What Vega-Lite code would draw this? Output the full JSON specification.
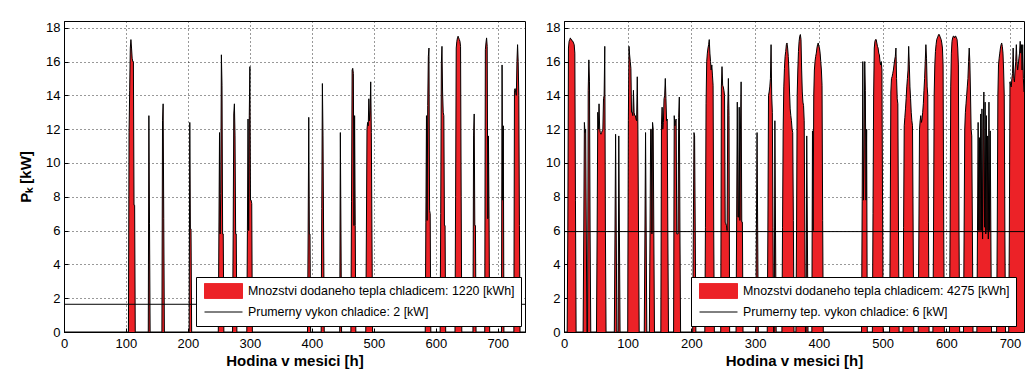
{
  "$schema": "https://vega.github.io/schema/vega-lite/v6.json",
  "background": "white",
  "padding": {"left": 18, "top": 20, "right": 3, "bottom": 0},
  "spacing": 39,
  "bounds": "flush",
  "config": {
    "view": {"stroke": "#000", "strokeWidth": 1},
    "font": "Liberation Sans",
    "axis": {
      "labelFont": "Liberation Sans",
      "labelFontSize": 13,
      "labelColor": "#000",
      "labelOverlap": false,
      "tickColor": "#000",
      "domainColor": "#000",
      "gridColor": "#000",
      "gridDash": [1, 3],
      "gridOpacity": 0.8,
      "tickSize": -4,
      "tickCount": 20,
      "titleFont": "Liberation Sans",
      "titleFontWeight": "bold",
      "titleFontSize": 15,
      "titleColor": "#000",
      "labelFlush": false
    }
  },
  "resolve": {"scale": {"color": "independent"}, "legend": {"color": "independent"}},
  "datasets": {
    "left": [
      {"h":0,"v":0},
      {"h":104,"v":0},{"h":105,"v":11.8},{"h":106,"v":14.3},{"h":107,"v":16.8},{"h":108,"v":17.3},{"h":109,"v":16.8},{"h":110,"v":16.2},{"h":111,"v":16},{"h":112,"v":16},{"h":113,"v":7.5},{"h":114,"v":7.5},{"h":115,"v":0},
      {"h":136,"v":0},{"h":137,"v":12.8},{"h":138,"v":6.4},{"h":139,"v":0},
      {"h":158,"v":0},{"h":159,"v":12.5},{"h":160,"v":13.5},{"h":161,"v":6.7},{"h":162,"v":0},
      {"h":202,"v":0},{"h":203,"v":12.4},{"h":204,"v":6.1},{"h":205,"v":6.1},{"h":206,"v":0},
      {"h":249,"v":0},{"h":250,"v":5.8},{"h":251,"v":11.8},{"h":252,"v":5.8},{"h":253,"v":8.2},{"h":254,"v":16.4},{"h":255,"v":14.6},{"h":256,"v":5.8},{"h":257,"v":5.8},{"h":258,"v":0},
      {"h":272,"v":0},{"h":273,"v":5.8},{"h":274,"v":12.9},{"h":275,"v":13.5},{"h":276,"v":11.6},{"h":277,"v":5.8},{"h":278,"v":5.8},{"h":279,"v":0},
      {"h":295,"v":0},{"h":296,"v":6},{"h":297,"v":12.6},{"h":298,"v":6},{"h":299,"v":12.8},{"h":300,"v":15.7},{"h":301,"v":7.8},{"h":302,"v":7.8},{"h":303,"v":7.6},{"h":304,"v":0},
      {"h":393,"v":0},{"h":394,"v":5.8},{"h":395,"v":12.7},{"h":396,"v":5.8},{"h":397,"v":5.8},{"h":398,"v":0},
      {"h":415,"v":0},{"h":416,"v":7.3},{"h":417,"v":14.7},{"h":418,"v":11.6},{"h":419,"v":5.8},{"h":420,"v":0},
      {"h":445,"v":0},{"h":446,"v":11.8},{"h":447,"v":5.8},{"h":448,"v":0},
      {"h":463,"v":0},{"h":464,"v":7.7},{"h":465,"v":15.5},{"h":466,"v":15.6},{"h":467,"v":15.3},{"h":468,"v":6.3},{"h":469,"v":12.8},{"h":470,"v":6.3},{"h":471,"v":0},
      {"h":487,"v":0},{"h":488,"v":5.8},{"h":489,"v":12},{"h":490,"v":12.4},{"h":491,"v":12.2},{"h":492,"v":13.8},{"h":493,"v":12.5},{"h":494,"v":13.1},{"h":495,"v":14.8},{"h":496,"v":11.8},{"h":497,"v":5.8},{"h":498,"v":0},
      {"h":583,"v":0},{"h":584,"v":6.5},{"h":585,"v":12.8},{"h":586,"v":6.6},{"h":587,"v":13.4},{"h":588,"v":16.3},{"h":589,"v":16.8},{"h":590,"v":7.2},{"h":591,"v":7},{"h":592,"v":0},
      {"h":607,"v":0},{"h":608,"v":7},{"h":609,"v":15.9},{"h":610,"v":16.9},{"h":611,"v":14.2},{"h":612,"v":13},{"h":613,"v":12.8},{"h":614,"v":6.3},{"h":615,"v":6.3},{"h":616,"v":0},
      {"h":631,"v":0},{"h":632,"v":8},{"h":633,"v":16.8},{"h":634,"v":17.2},{"h":635,"v":17.4},{"h":636,"v":17.5},{"h":637,"v":17.4},{"h":638,"v":17.3},{"h":639,"v":17.2},{"h":640,"v":16.9},{"h":641,"v":8},{"h":642,"v":0},
      {"h":660,"v":0},{"h":661,"v":11.6},{"h":662,"v":12.9},{"h":663,"v":6.3},{"h":664,"v":6.3},{"h":665,"v":0},
      {"h":679,"v":0},{"h":680,"v":16.7},{"h":681,"v":17.1},{"h":682,"v":17.4},{"h":683,"v":16.9},{"h":684,"v":6.7},{"h":685,"v":11.6},{"h":686,"v":6.7},{"h":687,"v":0},
      {"h":706,"v":0},{"h":707,"v":15.8},{"h":708,"v":7.8},{"h":709,"v":12.2},{"h":710,"v":0},
      {"h":726,"v":0},{"h":727,"v":14.3},{"h":728,"v":14.4},{"h":729,"v":14.2},{"h":730,"v":14},{"h":731,"v":16},{"h":732,"v":17},{"h":733,"v":16},{"h":734,"v":14},{"h":735,"v":6.3},{"h":736,"v":0},
      {"h":744,"v":0}
    ],
    "right": [
      {"h":0,"v":0},
      {"h":5,"v":0},{"h":6,"v":6},{"h":7,"v":16.8},{"h":8,"v":17.2},{"h":9,"v":17.3},{"h":10,"v":17.4},{"h":11,"v":17.3},{"h":12,"v":17.3},{"h":13,"v":17.2},{"h":14,"v":17.2},{"h":15,"v":17.1},{"h":16,"v":17},{"h":17,"v":16.5},{"h":18,"v":7.8},{"h":19,"v":0},
      {"h":30,"v":0},{"h":31,"v":5.8},{"h":32,"v":12.4},{"h":33,"v":11.8},{"h":34,"v":12},{"h":35,"v":5.8},{"h":36,"v":0},
      {"h":37,"v":0},{"h":38,"v":14.3},{"h":39,"v":16.1},{"h":40,"v":14.8},{"h":41,"v":5.8},{"h":42,"v":0},
      {"h":51,"v":0},{"h":52,"v":6},{"h":53,"v":13},{"h":54,"v":12},{"h":55,"v":13.5},{"h":56,"v":12},{"h":57,"v":11.8},{"h":58,"v":11.7},{"h":59,"v":11.8},{"h":60,"v":11.9},{"h":61,"v":12},{"h":62,"v":13.8},{"h":63,"v":14},{"h":64,"v":16.9},{"h":65,"v":6},{"h":66,"v":0},
      {"h":79,"v":0},{"h":80,"v":5.8},{"h":81,"v":11.7},{"h":82,"v":5.8},{"h":83,"v":0},
      {"h":85,"v":0},{"h":86,"v":11.6},{"h":87,"v":5.8},{"h":88,"v":0},
      {"h":100,"v":0},{"h":101,"v":12.5},{"h":102,"v":16.9},{"h":103,"v":16.4},{"h":104,"v":16},{"h":105,"v":15.6},{"h":106,"v":13},{"h":107,"v":13},{"h":108,"v":12.8},{"h":109,"v":14.3},{"h":110,"v":13},{"h":111,"v":12.8},{"h":112,"v":12.8},{"h":113,"v":12.6},{"h":114,"v":12.5},{"h":115,"v":15.1},{"h":116,"v":12},{"h":117,"v":5.8},{"h":118,"v":0},
      {"h":126,"v":0},{"h":127,"v":5.8},{"h":128,"v":11.8},{"h":129,"v":5.8},{"h":130,"v":0},
      {"h":134,"v":0},{"h":135,"v":5.8},{"h":136,"v":12},{"h":137,"v":12},{"h":138,"v":5.8},{"h":139,"v":12.4},{"h":140,"v":12},{"h":141,"v":5.8},{"h":142,"v":0},
      {"h":152,"v":0},{"h":153,"v":12.3},{"h":154,"v":13.3},{"h":155,"v":12},{"h":156,"v":12.4},{"h":157,"v":13.8},{"h":158,"v":14},{"h":159,"v":15},{"h":160,"v":13.8},{"h":161,"v":12.5},{"h":162,"v":12.6},{"h":163,"v":5.8},{"h":164,"v":0},
      {"h":172,"v":0},{"h":173,"v":12.8},{"h":174,"v":12.2},{"h":175,"v":12.5},{"h":176,"v":12.6},{"h":177,"v":5.8},{"h":178,"v":5.8},{"h":179,"v":5.8},{"h":180,"v":12.7},{"h":181,"v":13.9},{"h":182,"v":5.8},{"h":183,"v":0},
      {"h":202,"v":0},{"h":203,"v":6},{"h":204,"v":11.8},{"h":205,"v":11.6},{"h":206,"v":6},{"h":207,"v":0},
      {"h":221,"v":0},{"h":222,"v":6.2},{"h":223,"v":13.5},{"h":224,"v":16},{"h":225,"v":16.5},{"h":226,"v":16.8},{"h":227,"v":17},{"h":228,"v":17.3},{"h":229,"v":16.5},{"h":230,"v":16},{"h":231,"v":15.5},{"h":232,"v":15.8},{"h":233,"v":15.2},{"h":234,"v":14.6},{"h":235,"v":6},{"h":236,"v":0},
      {"h":246,"v":0},{"h":247,"v":14.5},{"h":248,"v":15.7},{"h":249,"v":14.6},{"h":250,"v":14.5},{"h":251,"v":14.3},{"h":252,"v":14},{"h":253,"v":6.5},{"h":254,"v":6.4},{"h":255,"v":6.3},{"h":256,"v":6},{"h":257,"v":13.2},{"h":258,"v":15},{"h":259,"v":12.8},{"h":260,"v":0},
      {"h":270,"v":0},{"h":271,"v":6.8},{"h":272,"v":13.6},{"h":273,"v":6.8},{"h":274,"v":6.8},{"h":275,"v":13.3},{"h":276,"v":6.6},{"h":277,"v":12},{"h":278,"v":14.8},{"h":279,"v":6.5},{"h":280,"v":6.5},{"h":281,"v":0},
      {"h":301,"v":0},{"h":302,"v":6},{"h":303,"v":11.8},{"h":304,"v":6},{"h":305,"v":0},
      {"h":319,"v":0},{"h":320,"v":6},{"h":321,"v":14},{"h":322,"v":14.2},{"h":323,"v":14.5},{"h":324,"v":15},{"h":325,"v":17},{"h":326,"v":14},{"h":327,"v":13},{"h":328,"v":6.2},{"h":329,"v":0},{"h":330,"v":0},{"h":331,"v":12.5},{"h":332,"v":6},{"h":333,"v":0},
      {"h":342,"v":0},{"h":343,"v":6.2},{"h":344,"v":12},{"h":345,"v":14.5},{"h":346,"v":15.6},{"h":347,"v":16.3},{"h":348,"v":16.6},{"h":349,"v":17},{"h":350,"v":17.1},{"h":351,"v":16.8},{"h":352,"v":16.3},{"h":353,"v":15.5},{"h":354,"v":14.2},{"h":355,"v":13.2},{"h":356,"v":12.8},{"h":357,"v":12.5},{"h":358,"v":12},{"h":359,"v":11.8},{"h":360,"v":6.6},{"h":361,"v":0},
      {"h":364,"v":0},{"h":365,"v":6},{"h":366,"v":14},{"h":367,"v":15.5},{"h":368,"v":16.6},{"h":369,"v":17.2},{"h":370,"v":17.5},{"h":371,"v":17.6},{"h":372,"v":17.3},{"h":373,"v":15.5},{"h":374,"v":14.2},{"h":375,"v":13.6},{"h":376,"v":13.4},{"h":377,"v":12.5},{"h":378,"v":6},{"h":379,"v":0},
      {"h":380,"v":0},{"h":381,"v":11.6},{"h":382,"v":5.8},{"h":383,"v":0},
      {"h":389,"v":0},{"h":390,"v":11.9},{"h":391,"v":6},{"h":392,"v":14},{"h":393,"v":15.5},{"h":394,"v":16},{"h":395,"v":16.3},{"h":396,"v":16.5},{"h":397,"v":16.8},{"h":398,"v":17},{"h":399,"v":17.1},{"h":400,"v":16.9},{"h":401,"v":16.8},{"h":402,"v":16.5},{"h":403,"v":16},{"h":404,"v":15.5},{"h":405,"v":14.6},{"h":406,"v":6.6},{"h":407,"v":0},
      {"h":467,"v":0},{"h":468,"v":7.7},{"h":469,"v":16},{"h":470,"v":7.8},{"h":471,"v":11},{"h":472,"v":16},{"h":473,"v":14.3},{"h":474,"v":7.8},{"h":475,"v":12},{"h":476,"v":0},
      {"h":484,"v":0},{"h":485,"v":7},{"h":486,"v":14},{"h":487,"v":16.8},{"h":488,"v":17.2},{"h":489,"v":17.3},{"h":490,"v":17.3},{"h":491,"v":17.1},{"h":492,"v":16.9},{"h":493,"v":16.8},{"h":494,"v":16.5},{"h":495,"v":16.4},{"h":496,"v":16},{"h":497,"v":15.8},{"h":498,"v":16},{"h":499,"v":15.5},{"h":500,"v":7.5},{"h":501,"v":0},
      {"h":511,"v":0},{"h":512,"v":6},{"h":513,"v":14.2},{"h":514,"v":15},{"h":515,"v":15.1},{"h":516,"v":15.3},{"h":517,"v":15.5},{"h":518,"v":15.8},{"h":519,"v":16.1},{"h":520,"v":16.3},{"h":521,"v":16.8},{"h":522,"v":15},{"h":523,"v":13.8},{"h":524,"v":13.5},{"h":525,"v":6},{"h":526,"v":0},
      {"h":532,"v":0},{"h":533,"v":6.2},{"h":534,"v":12.2},{"h":535,"v":12.7},{"h":536,"v":13.2},{"h":537,"v":13.8},{"h":538,"v":14.5},{"h":539,"v":15},{"h":540,"v":15.5},{"h":541,"v":16.9},{"h":542,"v":15.8},{"h":543,"v":14.5},{"h":544,"v":13.8},{"h":545,"v":13},{"h":546,"v":12.5},{"h":547,"v":12.2},{"h":548,"v":6},{"h":549,"v":0},
      {"h":556,"v":0},{"h":557,"v":6},{"h":558,"v":12},{"h":559,"v":12.5},{"h":560,"v":12.8},{"h":561,"v":12.4},{"h":562,"v":12.6},{"h":563,"v":13},{"h":564,"v":13.5},{"h":565,"v":14.3},{"h":566,"v":15},{"h":567,"v":16},{"h":568,"v":17},{"h":569,"v":16.2},{"h":570,"v":14.5},{"h":571,"v":14},{"h":572,"v":6.5},{"h":573,"v":0},
      {"h":579,"v":0},{"h":580,"v":6},{"h":581,"v":14},{"h":582,"v":15.8},{"h":583,"v":16.6},{"h":584,"v":17},{"h":585,"v":17.3},{"h":586,"v":17.4},{"h":587,"v":17.5},{"h":588,"v":17.6},{"h":589,"v":17.6},{"h":590,"v":17.5},{"h":591,"v":17.4},{"h":592,"v":17.3},{"h":593,"v":17.1},{"h":594,"v":16.8},{"h":595,"v":15.8},{"h":596,"v":6},{"h":597,"v":0},
      {"h":605,"v":0},{"h":606,"v":6},{"h":607,"v":14.5},{"h":608,"v":16.5},{"h":609,"v":17.2},{"h":610,"v":17.4},{"h":611,"v":17.5},{"h":612,"v":17.5},{"h":613,"v":17.4},{"h":614,"v":17.5},{"h":615,"v":17.5},{"h":616,"v":17.4},{"h":617,"v":17.3},{"h":618,"v":16.8},{"h":619,"v":15.8},{"h":620,"v":6},{"h":621,"v":0},
      {"h":627,"v":0},{"h":628,"v":6},{"h":629,"v":12},{"h":630,"v":13},{"h":631,"v":13.5},{"h":632,"v":14},{"h":633,"v":14.5},{"h":634,"v":15},{"h":635,"v":16},{"h":636,"v":16.8},{"h":637,"v":16},{"h":638,"v":14.2},{"h":639,"v":12},{"h":640,"v":11.6},{"h":641,"v":6},{"h":642,"v":0},
      {"h":648,"v":0},{"h":649,"v":6},{"h":650,"v":12.4},{"h":651,"v":6},{"h":652,"v":11.5},{"h":653,"v":6},{"h":654,"v":12.9},{"h":655,"v":6},{"h":656,"v":13.2},{"h":657,"v":5.5},{"h":658,"v":12},{"h":659,"v":14.2},{"h":660,"v":6.2},{"h":661,"v":13.6},{"h":662,"v":5.8},{"h":663,"v":12.8},{"h":664,"v":6},{"h":665,"v":11.6},{"h":666,"v":5.5},{"h":667,"v":13.6},{"h":668,"v":6},{"h":669,"v":11.9},{"h":670,"v":5.8},{"h":671,"v":0},
      {"h":679,"v":0},{"h":680,"v":6},{"h":681,"v":14},{"h":682,"v":15.8},{"h":683,"v":16.2},{"h":684,"v":16.5},{"h":685,"v":16.8},{"h":686,"v":17},{"h":687,"v":17.1},{"h":688,"v":16.9},{"h":689,"v":16.5},{"h":690,"v":15.5},{"h":691,"v":14},{"h":692,"v":6},{"h":693,"v":0},
      {"h":698,"v":0},{"h":699,"v":6},{"h":700,"v":14.8},{"h":701,"v":14.6},{"h":702,"v":14.5},{"h":703,"v":15},{"h":704,"v":15.3},{"h":705,"v":16.8},{"h":706,"v":15},{"h":707,"v":14.8},{"h":708,"v":15.5},{"h":709,"v":16},{"h":710,"v":17},{"h":711,"v":16},{"h":712,"v":15.5},{"h":713,"v":15.8},{"h":714,"v":16.2},{"h":715,"v":16.5},{"h":716,"v":17.2},{"h":717,"v":16.5},{"h":718,"v":17},{"h":719,"v":15.5},{"h":720,"v":17},{"h":721,"v":15},{"h":722,"v":14.2}
    ],
    "leftAvg": [{"avg": 1.64}],
    "rightAvg": [{"avg": 5.94}]
  },
  "hconcat": [
    {
      "width": 461,
      "height": 311,
      "layer": [
        {
          "data": {"name": "left"},
          "mark": {"type": "area", "interpolate": "linear", "opacity": 1},
          "encoding": {
            "x": {"field": "h", "type": "quantitative", "scale": {"domain": [0, 744], "nice": false, "zero": false},
                  "axis": {"title": "Hodina v mesici [h]", "values": [0,100,200,300,400,500,600,700], "format": "d", "labelPadding": 9, "titlePadding": 3, "grid": true}},
            "y": {"field": "v", "type": "quantitative", "scale": {"domain": [0, 18.4], "nice": false},
                  "axis": {"title": "Pₖ [kW]", "values": [0,2,4,6,8,10,12,14,16,18], "tickCount": 20, "format": "d", "labelPadding": 8, "titlePadding": 12, "grid": true}},
            "color": {
              "datum": "Mnozstvi dodaneho tepla chladicem: 1220 [kWh]",
              "type": "nominal",
              "scale": {"domain": ["Mnozstvi dodaneho tepla chladicem: 1220 [kWh]", "Prumerny vykon chladice: 2 [kW]"], "range": ["#ec2227", "#000000"]},
              "legend": {
                "orient": "none", "legendX": 132, "legendY": 256, "title": null, "direction": "vertical",
                "symbolType": "M-1,-0.4H1V0.4H-1Z", "symbolSize": 1444, "symbolStrokeWidth": 1,
                "clipHeight": 16, "rowPadding": 5, "padding": 6, "symbolOffset": 2, "labelOffset": 5,
                "labelFont": "Liberation Sans",
                "labelFontSize": 12.4, "labelColor": "#000", "labelLimit": 600,
                "fillColor": "#ffffff", "strokeColor": "#000000",
                "encoding": {
                  "symbols": {
                    "shape": {"condition": {"test": "datum.label == 'Prumerny vykon chladice: 2 [kW]'", "value": "M-1,0H1"}, "value": "M-1,-0.4H1V0.4H-1Z"},
                    "fill": {"condition": {"test": "datum.label == 'Prumerny vykon chladice: 2 [kW]'", "value": "transparent"}, "value": "#ec2227"},
                    "stroke": {"value": "#000000"},
                    "strokeWidth": {"value": 1},
                    "opacity": {"value": 1}
                  }
                }
              }
            }
          }
        },
        {
          "data": {"name": "left"},
          "mark": {"type": "line", "color": "#000", "strokeWidth": 1, "interpolate": "linear"},
          "encoding": {
            "x": {"field": "h", "type": "quantitative"},
            "y": {"field": "v", "type": "quantitative"}
          }
        },
        {
          "data": {"name": "leftAvg"},
          "mark": {"type": "rule", "strokeWidth": 1},
          "encoding": {
            "y": {"field": "avg", "type": "quantitative"},
            "color": {"datum": "Prumerny vykon chladice: 2 [kW]", "type": "nominal"}
          }
        }
      ]
    },
    {
      "width": 460,
      "height": 311,
      "layer": [
        {
          "data": {"name": "right"},
          "mark": {"type": "area", "interpolate": "linear", "opacity": 1},
          "encoding": {
            "x": {"field": "h", "type": "quantitative", "scale": {"domain": [0, 722], "nice": false, "zero": false},
                  "axis": {"title": "Hodina v mesici [h]", "values": [0,100,200,300,400,500,600,700], "format": "d", "labelPadding": 9, "titlePadding": 3, "grid": true}},
            "y": {"field": "v", "type": "quantitative", "scale": {"domain": [0, 18.4], "nice": false},
                  "axis": {"title": null, "values": [0,2,4,6,8,10,12,14,16,18], "tickCount": 20, "format": "d", "labelPadding": 8, "grid": true}},
            "color": {
              "datum": "Mnozstvi dodaneho tepla chladicem: 4275 [kWh]",
              "type": "nominal",
              "scale": {"domain": ["Mnozstvi dodaneho tepla chladicem: 4275 [kWh]", "Prumerny tep. vykon chladice: 6 [kW]"], "range": ["#ec2227", "#000000"]},
              "legend": {
                "orient": "none", "legendX": 127, "legendY": 256, "title": null, "direction": "vertical",
                "symbolType": "M-1,-0.4H1V0.4H-1Z", "symbolSize": 1444, "symbolStrokeWidth": 1,
                "clipHeight": 16, "rowPadding": 5, "padding": 6, "symbolOffset": 2, "labelOffset": 5,
                "labelFont": "Liberation Sans",
                "labelFontSize": 12.4, "labelColor": "#000", "labelLimit": 600,
                "fillColor": "#ffffff", "strokeColor": "#000000",
                "encoding": {
                  "symbols": {
                    "shape": {"condition": {"test": "datum.label == 'Prumerny tep. vykon chladice: 6 [kW]'", "value": "M-1,0H1"}, "value": "M-1,-0.4H1V0.4H-1Z"},
                    "fill": {"condition": {"test": "datum.label == 'Prumerny tep. vykon chladice: 6 [kW]'", "value": "transparent"}, "value": "#ec2227"},
                    "stroke": {"value": "#000000"},
                    "strokeWidth": {"value": 1},
                    "opacity": {"value": 1}
                  }
                }
              }
            }
          }
        },
        {
          "data": {"name": "right"},
          "mark": {"type": "line", "color": "#000", "strokeWidth": 1, "interpolate": "linear"},
          "encoding": {
            "x": {"field": "h", "type": "quantitative"},
            "y": {"field": "v", "type": "quantitative"}
          }
        },
        {
          "data": {"name": "rightAvg"},
          "mark": {"type": "rule", "strokeWidth": 1},
          "encoding": {
            "y": {"field": "avg", "type": "quantitative"},
            "color": {"datum": "Prumerny tep. vykon chladice: 6 [kW]", "type": "nominal"}
          }
        }
      ]
    }
  ]
}
